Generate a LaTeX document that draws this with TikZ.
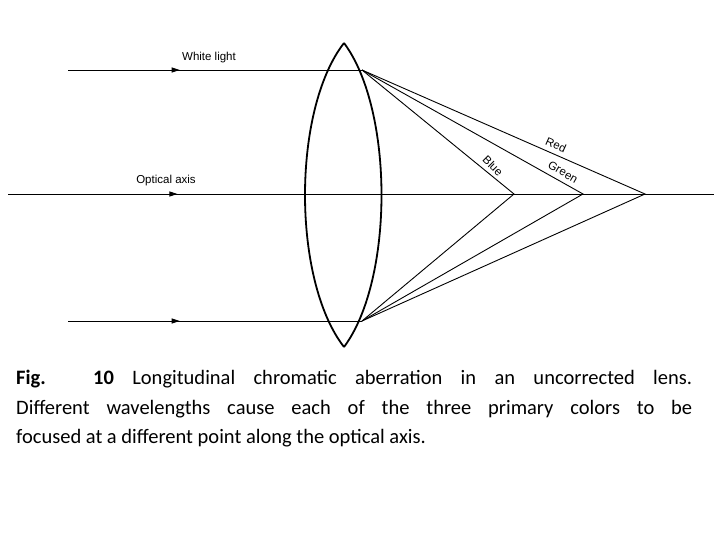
\documentclass[tikz,border=0pt]{standalone}
\usepackage{fontspec}
\setmainfont{Carlito}
\newfontfamily\lab{Liberation Sans}
\usetikzlibrary{decorations.markings,arrows.meta}
\begin{document}
\begin{tikzpicture}[x=1pt,y=-1pt,
  ray/.style={line width=0.9pt},
  lensline/.style={line width=1.8pt},
  midarrow/.style={decoration={markings,mark=at position #1 with {\arrow{Triangle[length=8pt,width=5pt]}}},postaction={decorate}},
  lbl/.style={font=\lab\fontsize{11.5}{13}\selectfont,inner sep=0pt}]
\useasboundingbox (0,0) rectangle (720,540);
\coordinate (s1) at (68,70); \coordinate (t) at (362,70);
\coordinate (s2) at (68,321); \coordinate (b) at (362,321);
\coordinate (a0) at (8,194); \coordinate (a1) at (714,194);
\coordinate (fb) at (514,194); \coordinate (fg) at (583,194); \coordinate (fr) at (645,194);
\coordinate (lt) at (344,43); \coordinate (lb) at (344,347);
\draw[lensline] (lt) .. controls (292,110) and (292,280) .. (lb);
\draw[lensline] (lt) .. controls (394,110) and (394,280) .. (lb);
\draw[ray,midarrow=0.38] (s1) -- (t);
\draw[ray,midarrow=0.38] (s2) -- (b);
\draw[ray,midarrow=0.24] (a0) -- (a1);
\foreach \f in {fb,fg,fr}{\draw[ray] (t) -- (\f) -- (b);}
\node[lbl] (wl) at (209,58) {White light};
\node[lbl] (oa) at (166,181) {Optical axis};
\node[lbl,rotate=-24] (red) at (556,145) {Red};
\node[lbl,rotate=-30] (green) at (563,172) {Green};
\node[lbl,rotate=-45] (blue) at (493,166) {Blue};
\node[anchor=north west,inner sep=0pt,text width=676pt,align=justify,
  font=\fontsize{20.5}{29.5}\selectfont] (cap) at (16,370)
  {\hyphenpenalty=10000 \textbf{Fig. 10} Longitudinal chromatic aberration in an uncorrected lens.\linebreak Different wavelengths cause each of the three primary colors to be\linebreak focused at a different point along the optical axis.};
\end{tikzpicture}
\end{document}
